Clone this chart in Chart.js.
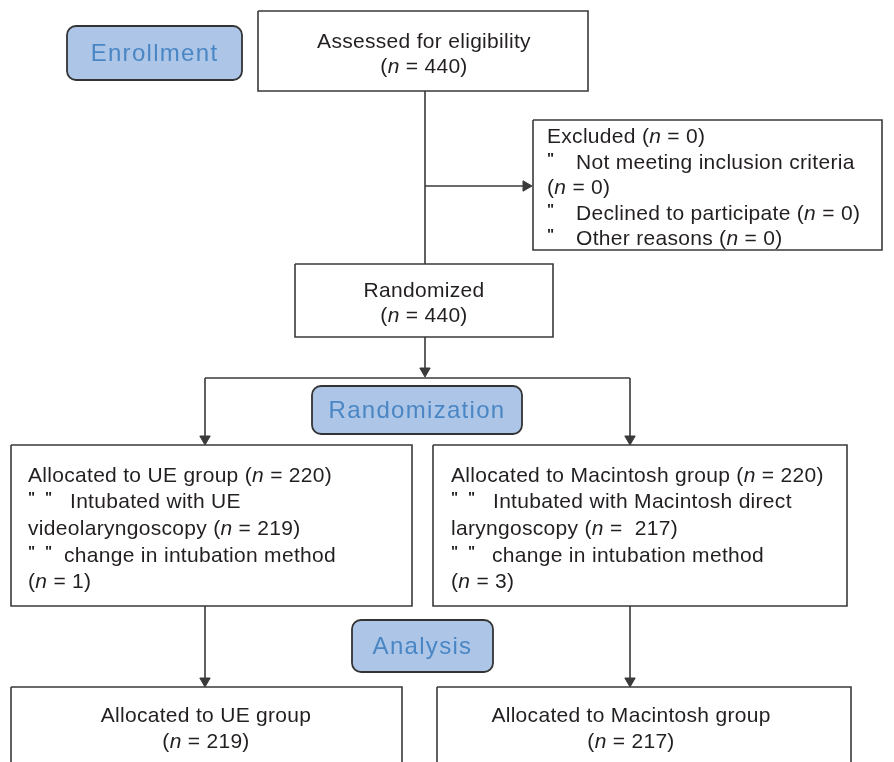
<!DOCTYPE html>
<html>
<head>
<meta charset="utf-8">
<script src="https://cdn.jsdelivr.net/npm/chart.js@4.4.1/dist/chart.umd.min.js"></script>
<style>
  html, body { margin: 0; padding: 0; background: #fff; }
  canvas { display: block; }
</style>
</head>
<body>
<canvas id="flow" width="894" height="762"></canvas>
<script>
// Boxes of the flow diagram: [left, top, right, bottom] in diagram units
const boxAssessed = [258, 11, 588, 91]
const boxExcluded = [533, 120, 882, 250]
const boxRandomized = [295, 264, 553, 337]
const boxAllocUE = [11, 445, 412, 606]
const boxAllocMac = [433, 445, 847, 606]
const boxAnalysisUE = [11, 687, 402, 775]
const boxAnalysisMac = [437, 687, 851, 775]

// Connector polylines and arrow tips
const connectors = [
  [[425, 91], [425, 264]],
  [[425, 186], [526, 186]],
  [[425, 337], [425, 372]],
  [[205, 378], [630, 378]],
  [[205, 378], [205, 440]],
  [[630, 378], [630, 440]],
  [[205, 606], [205, 682]],
  [[630, 606], [630, 682]]
]
const arrowsDown = [[425, 371], [205, 439], [630, 439], [205, 681], [630, 681]]
const arrowsRight = [[526, 186]]

// Stage labels (rounded blue boxes)
const stageNames = ['Enrollment', 'Randomization', 'Analysis']
const stageBoxes = [[67, 26, 242, 80], [312, 386, 522, 434], [352, 620, 493, 672]]

// Text lines: [text, x, y, align]  (*n* = italic)
const textLines = [
  ['Assessed for eligibility', 424, 40, 'center'],
  ['(*n* = 440)', 424, 65, 'center'],
  ['Excluded (*n* = 0)', 547, 135, 'left'],
  ['Not meeting inclusion criteria', 576, 161, 'left'],
  ['(*n* = 0)', 547, 186, 'left'],
  ['Declined to participate (*n* = 0)', 576, 212, 'left'],
  ['Other reasons (*n* = 0)', 576, 237, 'left'],
  ['Randomized', 424, 289, 'center'],
  ['(*n* = 440)', 424, 314, 'center'],
  ['Allocated to UE group (*n* = 220)', 28, 474, 'left'],
  ['Intubated with UE', 70, 500, 'left'],
  ['videolaryngoscopy (*n* = 219)', 28, 527, 'left'],
  ['change in intubation method', 64, 554, 'left'],
  ['(*n* = 1)', 28, 580, 'left'],
  ['Allocated to Macintosh group (*n* = 220)', 451, 474, 'left'],
  ['Intubated with Macintosh direct', 493, 500, 'left'],
  ['laryngoscopy (*n* =  217)', 451, 527, 'left'],
  ['change in intubation method', 492, 554, 'left'],
  ['(*n* = 3)', 451, 580, 'left'],
  ['Allocated to UE group', 206, 714, 'center'],
  ['(*n* = 219)', 206, 740, 'center'],
  ['Allocated to Macintosh group', 631, 714, 'center'],
  ['(*n* = 217)', 631, 740, 'center']
]
// bullet marks (small double ticks)
const bullets = [[547, 161], [547, 212], [547, 237],
  [28, 500], [45, 500], [28, 554], [45, 554],
  [451, 500], [468, 500], [451, 554], [468, 554]]

const LINE = '#3a3a3a'
const TEXT = '#231f20'
const FAMILY = '"Liberation Sans", Arial, sans-serif'

function boxPath(b) {
  return [
    {x: b[0], y: b[1]}, {x: b[2], y: b[1]}, {x: b[2], y: b[3]},
    {x: b[0], y: b[3]}, {x: b[0], y: b[1]}
  ]
}

const datasets = []
const allBoxes = [boxAssessed, boxExcluded, boxRandomized, boxAllocUE, boxAllocMac, boxAnalysisUE, boxAnalysisMac]
allBoxes.forEach(function(b) {
  datasets.push({
    data: boxPath(b), showLine: true, borderColor: LINE, borderWidth: 1.6,
    pointRadius: 0, fill: false, tension: 0
  })
})
connectors.forEach(function(c) {
  datasets.push({
    data: c.map(function(p) { return {x: p[0], y: p[1]} }),
    showLine: true, borderColor: LINE, borderWidth: 1.6, pointRadius: 0
  })
})
datasets.push({
  data: arrowsDown.map(function(p) { return {x: p[0], y: p[1]} }),
  pointStyle: 'triangle', rotation: 180, pointRadius: 6,
  backgroundColor: LINE, borderColor: LINE, borderWidth: 1
})
datasets.push({
  data: arrowsRight.map(function(p) { return {x: p[0], y: p[1]} }),
  pointStyle: 'triangle', rotation: 90, pointRadius: 6,
  backgroundColor: LINE, borderColor: LINE, borderWidth: 1
})

function drawRich(ctx, str, x, y, align, size) {
  const parts = str.split(/(\*[^*]+\*)/).filter(function(s) { return s.length })
  const fonts = parts.map(function(p) {
    return (p[0] === '*' ? 'italic ' : '') + size + 'px ' + FAMILY
  })
  const texts = parts.map(function(p) { return p[0] === '*' ? p.slice(1, -1) : p })
  let total = 0
  const widths = texts.map(function(t, i) {
    ctx.font = fonts[i]
    const w = ctx.measureText(t).width
    total += w
    return w
  })
  let cx = align === 'center' ? x - total / 2 : x
  ctx.textAlign = 'left'
  ctx.textBaseline = 'middle'
  texts.forEach(function(t, i) {
    ctx.font = fonts[i]
    ctx.fillText(t, cx, y)
    cx += widths[i]
  })
}

const overlay = {
  id: 'overlay',
  afterDatasetsDraw(chart) {
    const ctx = chart.ctx
    const sx = chart.scales.x, sy = chart.scales.y
    const px = function(v) { return sx.getPixelForValue(v) }
    const py = function(v) { return sy.getPixelForValue(v) }
    ctx.save()
    // stage labels
    stageBoxes.forEach(function(b, i) {
      const x0 = px(b[0]), y0 = py(b[1]), x1 = px(b[2]), y1 = py(b[3])
      ctx.beginPath()
      ctx.roundRect(x0, y0, x1 - x0, y1 - y0, 9)
      ctx.fillStyle = '#adc6e7'
      ctx.fill()
      ctx.lineWidth = 1.8
      ctx.strokeStyle = '#333'
      ctx.stroke()
      ctx.fillStyle = '#4a86c4'
      ctx.font = '24px ' + FAMILY
      ctx.letterSpacing = '1.3px'
      ctx.textAlign = 'center'
      ctx.textBaseline = 'middle'
      ctx.fillText(stageNames[i], (x0 + x1) / 2, (y0 + y1) / 2 + 1)
    })
    ctx.fillStyle = TEXT
    ctx.letterSpacing = '0.3px'
    textLines.forEach(function(l) {
      drawRich(ctx, l[0], px(l[1]), py(l[2]) + 2, l[3], 21)
    })
    ctx.letterSpacing = '0px'
    bullets.forEach(function(p) {
      ctx.font = 'bold 15px ' + FAMILY
      ctx.textAlign = 'left'
      ctx.textBaseline = 'middle'
      ctx.fillText('"', px(p[0]), py(p[1]) - 2)
    })
    ctx.restore()
  }
}

new Chart(document.getElementById('flow'), {
  type: 'scatter',
  data: { datasets: datasets },
  options: {
    responsive: false,
    animation: false,
    layout: { padding: 0, autoPadding: false },
    plugins: { legend: { display: false }, tooltip: { enabled: false } },
    scales: {
      x: { type: 'linear', min: 0, max: 894, display: false },
      y: { type: 'linear', min: 0, max: 762, reverse: true, display: false }
    }
  },
  plugins: [overlay]
})
</script>
</body>
</html>
